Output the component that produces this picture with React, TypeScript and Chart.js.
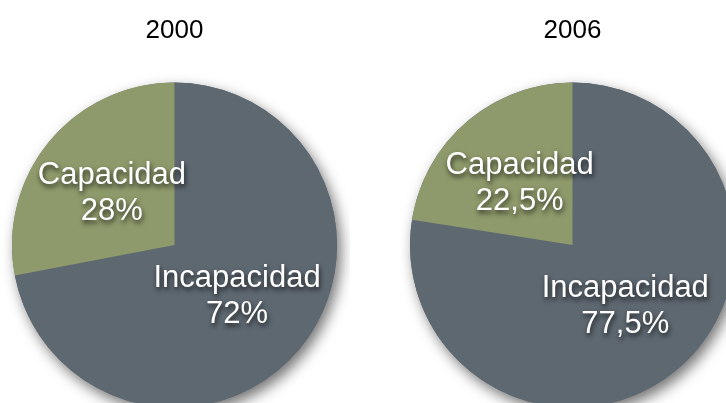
import React, { useEffect, useRef } from "react";
import { Chart, registerables } from "chart.js";

Chart.register(...registerables);

const categories = ["Incapacidad", "Capacidad"];
const years = ["2000", "2006"];
const values2000 = [72, 28];
const values2006 = [77.5, 22.5];
const valueLabels2000 = ["72%", "28%"];
const valueLabels2006 = ["77,5%", "22,5%"];
const sliceColors = ["#5e6871", "#8e9a6b"];

const FONT = "'Liberation Sans', Arial, Helvetica, sans-serif";

const shadowPlugin = {
  id: "pieShadow",
  beforeDatasetsDraw(chart: any) {
    const arc = chart.getDatasetMeta(0).data[0];
    if (!arc) return;
    const { x, y, outerRadius } = arc.getProps(["x", "y", "outerRadius"], true);
    const ctx = chart.ctx;
    ctx.save();
    ctx.shadowColor = "rgba(0,0,0,0.55)";
    ctx.shadowBlur = 14;
    ctx.shadowOffsetX = 4;
    ctx.shadowOffsetY = 6;
    ctx.fillStyle = sliceColors[0];
    ctx.beginPath();
    ctx.arc(x, y, outerRadius, 0, Math.PI * 2);
    ctx.fill();
    ctx.restore();
  },
};

const labelPlugin = {
  id: "sliceLabels",
  afterDatasetsDraw(chart: any) {
    const meta = chart.getDatasetMeta(0);
    const labels: string[] = chart.data.labels;
    const valueLabels: string[] = (chart.options.plugins as any).sliceLabels.values;
    const ctx = chart.ctx;
    ctx.save();
    ctx.font = `31px ${FONT}`;
    ctx.fillStyle = "#ffffff";
    ctx.textAlign = "center";
    ctx.textBaseline = "middle";
    ctx.shadowColor = "rgba(0,0,0,0.75)";
    ctx.shadowBlur = 5;
    ctx.shadowOffsetX = 1;
    ctx.shadowOffsetY = 3;
    meta.data.forEach((arc: any, i: number) => {
      const p = arc.getCenterPoint();
      ctx.fillText(labels[i], p.x, p.y - 18);
      ctx.fillText(valueLabels[i], p.x, p.y + 18);
    });
    ctx.restore();
  },
};

function PieChart({ title, values, valueLabels, left }: { title: string; values: number[]; valueLabels: string[]; left: number }) {
  const ref = useRef<HTMLCanvasElement>(null);
  useEffect(() => {
    if (!ref.current) return;
    const chart = new Chart(ref.current, {
      type: "pie",
      data: {
        labels: categories,
        datasets: [
          {
            data: values,
            backgroundColor: sliceColors,
            borderWidth: 0,
            hoverOffset: 0,
          },
        ],
      },
      options: {
        responsive: false,
        animation: false,
        events: [],
        layout: { padding: { left: 12, right: 13, top: 0, bottom: 12 } },
        plugins: {
          legend: { display: false },
          tooltip: { enabled: false },
          title: {
            display: true,
            text: title,
            color: "#000000",
            font: { family: FONT, size: 26, weight: "normal" as any, lineHeight: 1.2 },
            padding: { top: 15, bottom: 36 },
          },
          sliceLabels: { values: valueLabels },
        } as any,
      },
      plugins: [shadowPlugin, labelPlugin],
    });
    return () => chart.destroy();
  }, []);
  return (
    <canvas
      ref={ref}
      width={350}
      height={420}
      style={{ position: "absolute", left, top: 0, width: 350, height: 420 }}
    />
  );
}

export default function App() {
  return (
    <div
      style={{
        position: "fixed",
        left: 0,
        top: 0,
        width: 726,
        height: 403,
        overflow: "hidden",
        background: "#ffffff",
      }}
    >
      <PieChart title={years[0]} values={values2000} valueLabels={valueLabels2000} left={0} />
      <PieChart title={years[1]} values={values2006} valueLabels={valueLabels2006} left={398} />
    </div>
  );
}
